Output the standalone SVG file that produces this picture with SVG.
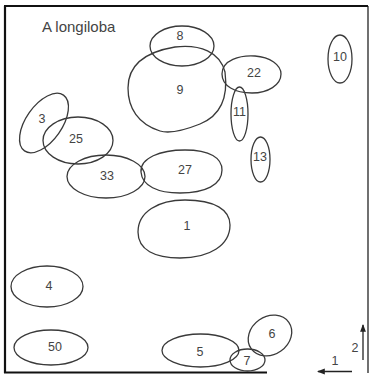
<svg xmlns="http://www.w3.org/2000/svg" width="370" height="376" viewBox="0 0 370 376">
<defs>
<style>
.o{fill:none;stroke:#3a3a3a;stroke-width:1.3}
.t{font-family:"Liberation Sans",Arial,sans-serif;font-size:12.5px;fill:#444;text-anchor:middle;dominant-baseline:central}
.f{stroke:#111;fill:none}
</style>
<marker id="ah" viewBox="0 0 8 8" refX="7" refY="4" markerWidth="6" markerHeight="6" orient="auto"><path d="M0,1 L8,4 L0,7 Z" fill="#222"/></marker>
</defs>
<rect width="370" height="376" fill="#fff"/>
<g id="frame">
<line class="f" x1="4" y1="6" x2="368" y2="6" stroke-width="2"/>
<line class="f" x1="5" y1="6" x2="5" y2="373" stroke-width="2.2"/>
<line class="f" x1="4" y1="372.5" x2="267" y2="372.5" stroke-width="2"/>
<line class="f" x1="368" y1="6" x2="368" y2="373" stroke-width="1.2" stroke="#555"/>
</g>
<text x="42" y="32" style="font-family:'Liberation Sans',Arial,sans-serif;font-size:15px;fill:#444">A longiloba</text>
<g id="n8"><ellipse class="o" cx="182" cy="46" rx="32" ry="20"/><text class="t" x="180" y="36">8</text></g>
<g id="n9"><path class="o" d="M128 88 C128 65 145 52 175 47 C200 44 220 52 225 72 C228 95 222 115 200 124 C185 130 170 134 160 131 C138 124 128 108 128 88 Z"/><text class="t" x="180" y="90">9</text></g>
<g id="n22"><path class="o" d="M222 74 C222 60 240 55 255 56 C270 57 281 65 281 74 C281 85 268 93 252 93 C235 93 222 86 222 74 Z"/><text class="t" x="254" y="73">22</text></g>
<g id="n11"><ellipse class="o" cx="239.5" cy="114" rx="8.5" ry="27"/><text class="t" x="239.5" y="112">11</text></g>
<g id="n10"><ellipse class="o" cx="340" cy="59" rx="12" ry="24"/><text class="t" x="340" y="57">10</text></g>
<g id="n13"><ellipse class="o" cx="260.5" cy="159.5" rx="9.5" ry="22.5"/><text class="t" x="260" y="157">13</text></g>
<g id="n3"><ellipse class="o" cx="44" cy="123" rx="34" ry="18" transform="rotate(-55 44 123)"/><text class="t" x="42" y="119">3</text></g>
<g id="n25"><ellipse class="o" cx="78" cy="140.5" rx="35" ry="23.5"/><text class="t" x="76" y="139">25</text></g>
<g id="n33"><ellipse class="o" cx="106" cy="176.5" rx="39" ry="21.5"/><text class="t" x="107" y="176">33</text></g>
<g id="n27"><path class="o" d="M141 172 C140 158 160 150 185 150 C210 150 222 158 222 170 C222 185 205 193 180 193 C158 193 142 186 141 172 Z"/><text class="t" x="185" y="170">27</text></g>
<g id="n1"><path class="o" d="M138 232 C138 212 158 200 185 200 C215 200 230 210 230 225 C230 245 210 258 180 258 C155 258 138 250 138 232 Z"/><text class="t" x="187" y="226">1</text></g>
<g id="n4"><ellipse class="o" cx="47" cy="286.5" rx="36" ry="20.5"/><text class="t" x="49" y="286">4</text></g>
<g id="n50"><ellipse class="o" cx="51" cy="347.5" rx="37" ry="17.5"/><text class="t" x="55" y="347">50</text></g>
<g id="n5"><ellipse class="o" cx="200.5" cy="350.5" rx="38.5" ry="16.5"/><text class="t" x="200" y="352">5</text></g>
<g id="n7"><ellipse class="o" cx="247.5" cy="360" rx="17.5" ry="11"/><text class="t" x="247" y="361">7</text></g>
<g id="n6"><ellipse class="o" cx="270" cy="335.5" rx="23" ry="19" transform="rotate(-35 270 335.5)"/><text class="t" x="272" y="334">6</text></g>
<g id="connectors">
<line x1="363" y1="360" x2="363" y2="325" stroke="#222" stroke-width="1.3" marker-end="url(#ah)"/>
<line x1="352" y1="371.5" x2="318" y2="371.5" stroke="#222" stroke-width="1.3" marker-end="url(#ah)"/>
</g>
<text class="t" x="355" y="348">2</text>
<text class="t" x="335" y="361">1</text>
</svg>
